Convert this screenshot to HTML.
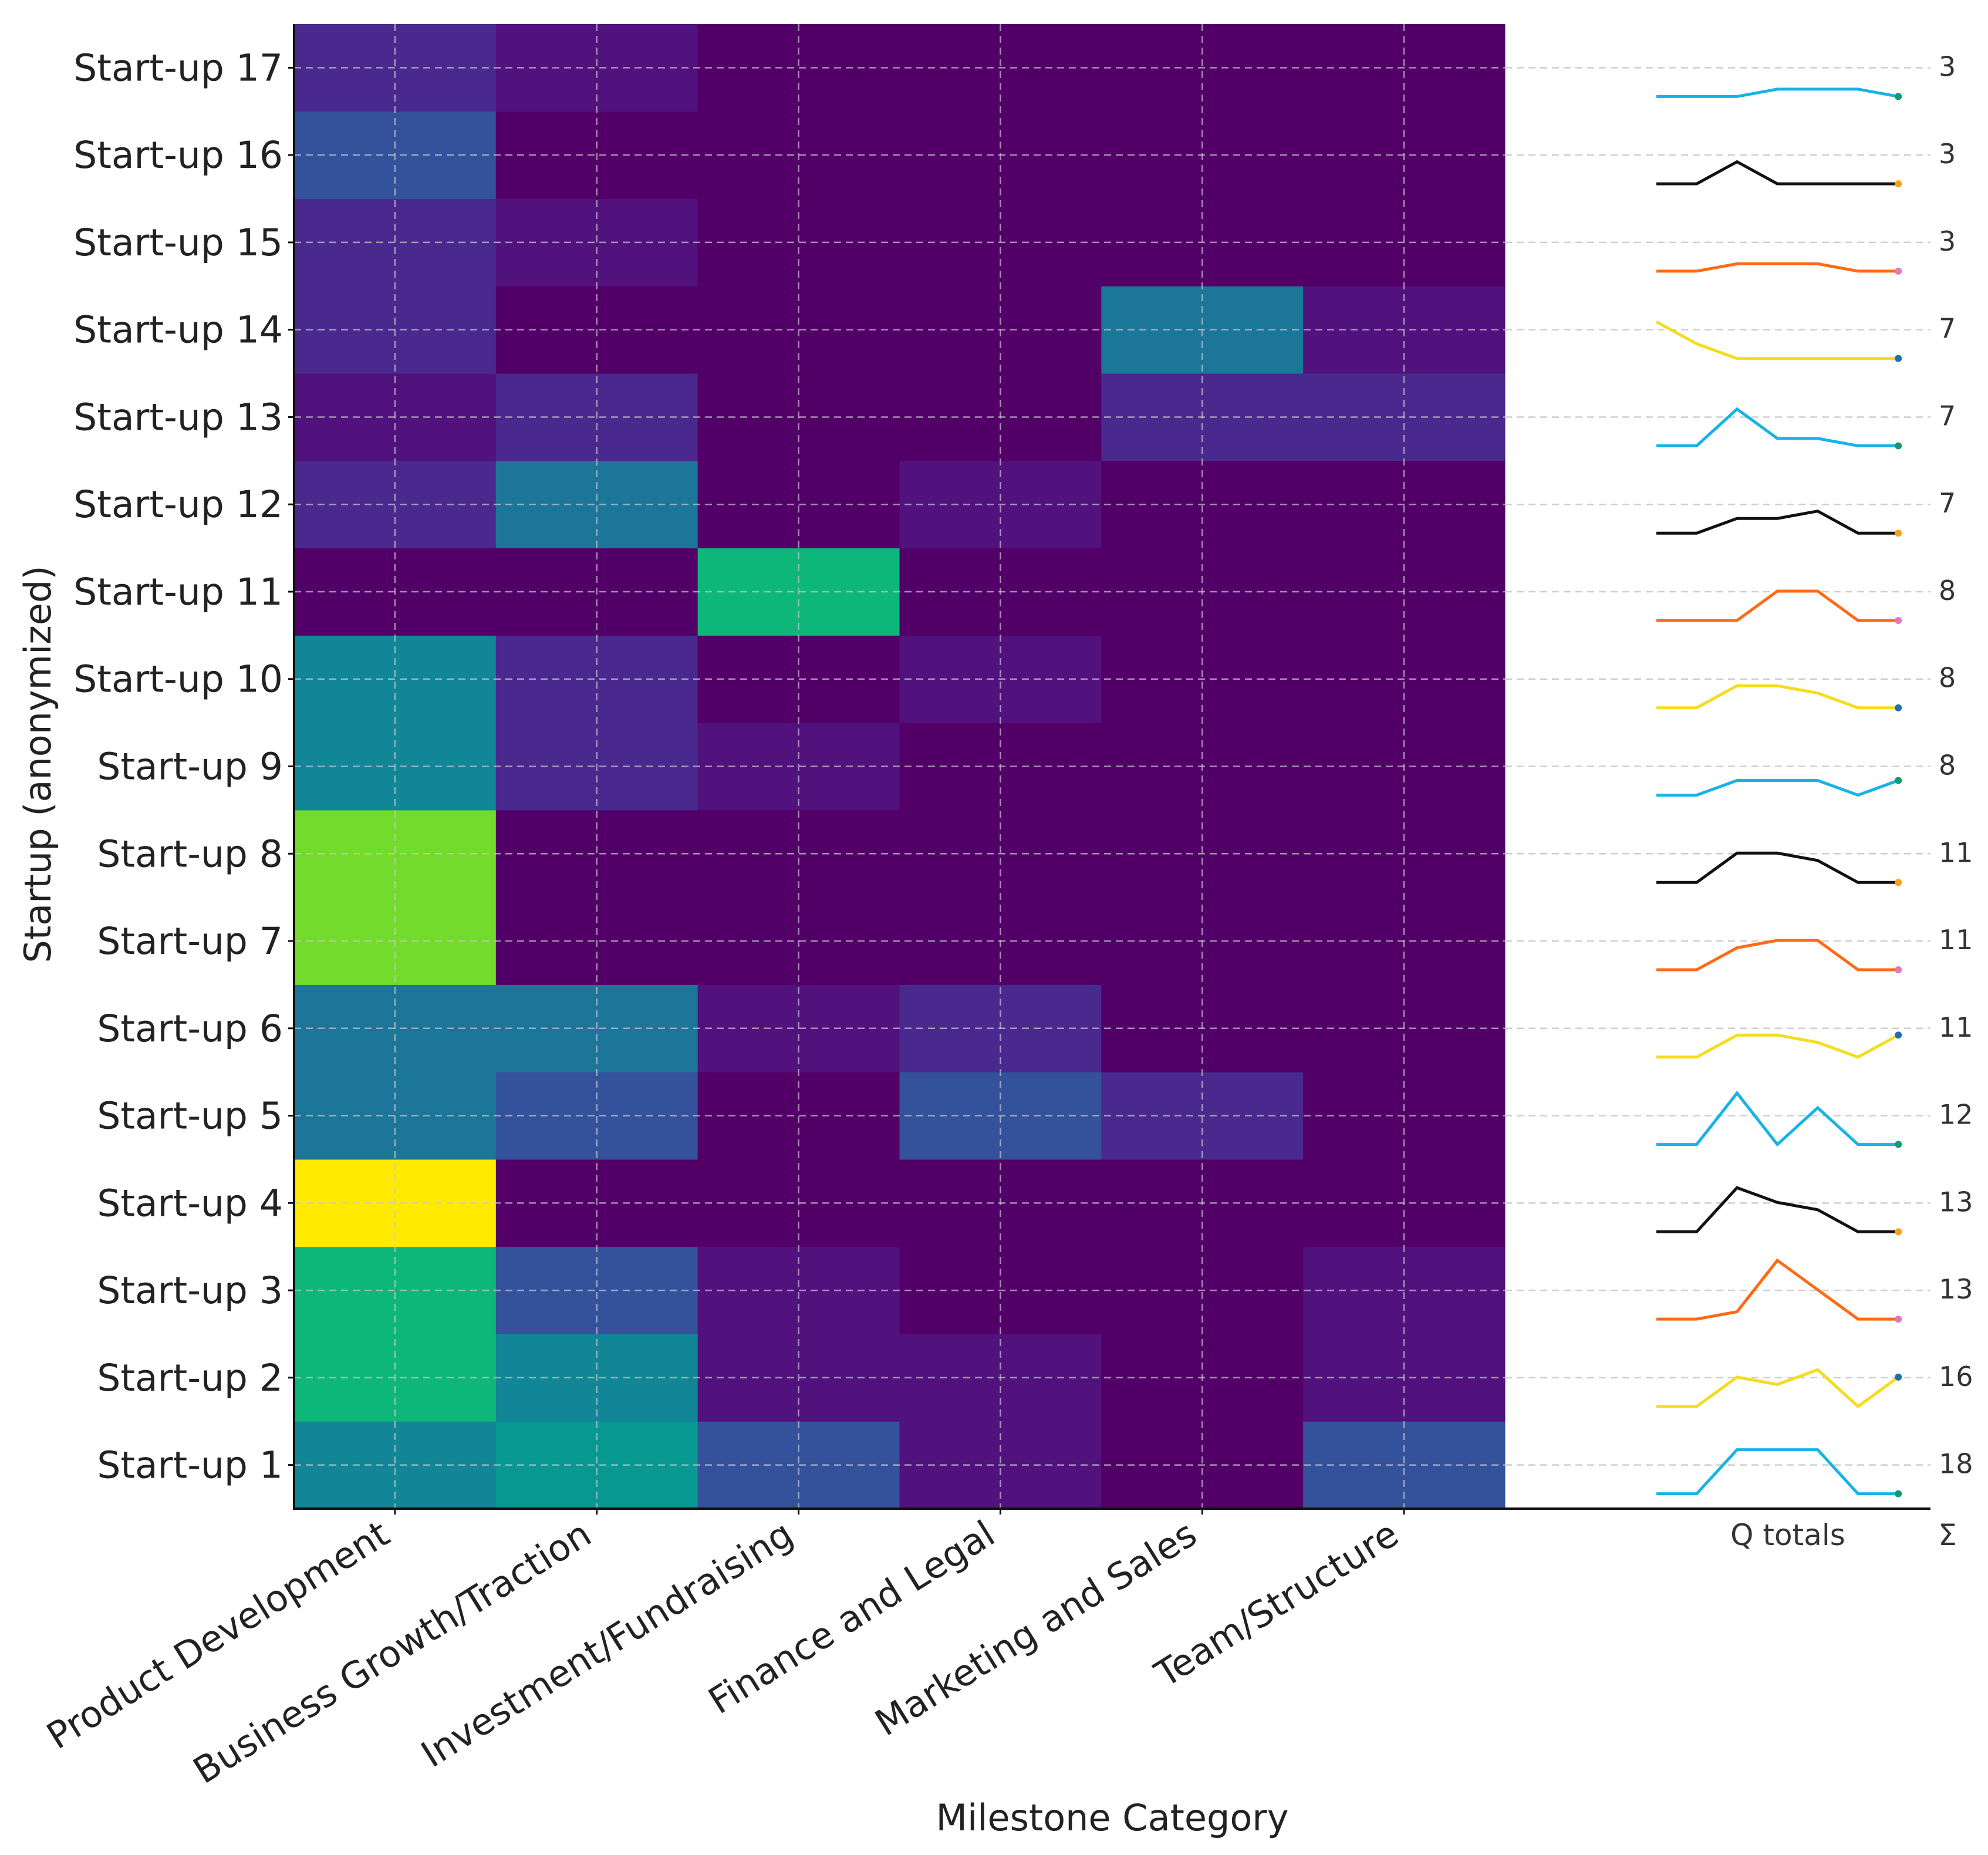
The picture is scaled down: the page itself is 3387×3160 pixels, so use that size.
<!DOCTYPE html>
<html><head><meta charset="utf-8"><style>
html,body{margin:0;padding:0;background:#fff;}
svg{display:block;font-family:"DejaVu Sans","Liberation Sans",sans-serif;}
#cells{filter:saturate(1.3);}
</style></head><body>
<svg id="chart" width="3387" height="3160" viewBox="0 0 3387 3160" xmlns="http://www.w3.org/2000/svg">
<g id="cells"></g>
<g id="grid"></g>
<g id="spark"></g>
<g id="axes"></g>
<text x="1895" y="3118" font-size="62" text-anchor="middle" fill="#222">Milestone Category</text>
<text x="0" y="0" font-size="62" text-anchor="middle" fill="#222" transform="translate(86,1302) rotate(-90)">Startup (anonymized)</text>
<text x="3046" y="2632" font-size="50" text-anchor="middle" fill="#333">Q totals</text>
<text x="3318" y="2632" font-size="50" text-anchor="middle" fill="#333">Σ</text>
</svg>
<script>
const categories = ["Product Development","Business Growth/Traction","Investment/Fundraising","Finance and Legal","Marketing and Sales","Team/Structure"];
const startups = ["Start-up 1","Start-up 2","Start-up 3","Start-up 4","Start-up 5","Start-up 6","Start-up 7","Start-up 8","Start-up 9","Start-up 10","Start-up 11","Start-up 12","Start-up 13","Start-up 14","Start-up 15","Start-up 16","Start-up 17"];
const pdValues = [3.5,5,5,8,3,3,6.5,6.5,3.5,3.5,0,1,0.5,1,1,2,1];
const bgValues = [4,3.5,2,0,2,3,0,0,1,1,0,3,1,0,0.5,0,0.5];
const invValues = [2,0.5,0.5,0,0,0.5,0,0,0.5,0,5,0,0,0,0,0,0];
const flValues = [0.5,0.5,0,0,2,1,0,0,0,0.5,0,0.5,0,0,0,0,0];
const msValues = [0,0,0,0,1,0,0,0,0,0,0,0,1,3,0,0,0];
const teamValues = [2,0.5,0.5,0,0,0,0,0,0,0,0,0,1,0.5,0,0,0];
const totals = [18,16,13,13,12,11,11,11,8,8,8,7,7,7,3,3,3];
const quarterSeries = [
 [0,0,6,6,6,0,0],[0,0,4,3,5,0,4],[0,0,1,8,4,0,0],[0,0,6,4,3,0,0],
 [0,0,7,0,5,0,0],[0,0,3,3,2,0,3],[0,0,3,4,4,0,0],[0,0,4,4,3,0,0],
 [0,0,2,2,2,0,2],[0,0,3,3,2,0,0],[0,0,0,4,4,0,0],[0,0,2,2,3,0,0],
 [0,0,5,1,1,0,0],[5,2,0,0,0,0,0],[0,0,1,1,1,0,0],[0,0,3,0,0,0,0],
 [0,0,0,1,1,1,0]];
const VMAX = 8;

const NS="http://www.w3.org/2000/svg";
const L=501,R=2564,T=41,B=2570,RIGHT=3289;
const colW=(R-L)/categories.length, rowH=(B-T)/startups.length;
const xCol=i=>L+i*colW;
const yRow=r=>T+(startups.length-1-r)*rowH;
const yCenter=r=>yRow(r)+rowH/2;
const sx=i=>2822+i*68.7;
const sy=(r,v)=>yCenter(r)+49-v*12.5;
const vir=["#440154","#482475","#414487","#355f8d","#2a788e","#21918c","#22a884","#44bf70","#7ad151","#bddf26","#fde725"];
function hex(h){return [1,3,5].map(i=>parseInt(h.substr(i,2),16));}
function viridis(t){t=Math.max(0,Math.min(1,t));const p=t*10,i=Math.min(9,Math.floor(p)),f=p-i;
 const a=hex(vir[i]),b=hex(vir[i+1]);return "rgb("+a.map((c,k)=>Math.round(c+(b[k]-c)*f)).join(",")+")";}
function mk(tag,attrs,parent){const e=document.createElementNS(NS,tag);for(const k in attrs)e.setAttribute(k,attrs[k]);parent.appendChild(e);return e;}

const cols=[pdValues,bgValues,invValues,flValues,msValues,teamValues];
const cells=document.getElementById('cells');
cols.forEach((arr,c)=>arr.forEach((v,r)=>{
 const e=mk('rect',{x:xCol(c),y:yRow(r),width:colW+0.5,height:rowH+0.5,fill:viridis(v/VMAX)},cells);
 
 
}));
const grid=document.getElementById('grid');
categories.forEach((c,i)=>{
 const e=mk('line',{x1:xCol(i)+colW/2,x2:xCol(i)+colW/2,y1:T,y2:B,stroke:"#c8c8d0","stroke-width":2.5,"stroke-dasharray":"12,8",opacity:0.7},grid);
 
 
});
startups.forEach((s,r)=>{
 const e=mk('line',{x1:L,x2:R,y1:yCenter(r),y2:yCenter(r),stroke:"#c8c8d0","stroke-width":2.5,"stroke-dasharray":"12,8",opacity:0.7},grid);
 
 
 const e2=mk('line',{x1:R,x2:RIGHT,y1:yCenter(r),y2:yCenter(r),stroke:"#cfcfcf","stroke-width":2.5,"stroke-dasharray":"12,8"},grid);
 
 
});
const lineColors=["#17b3e8","#f5dc1e","#ff6a13","#111111"];
const dotColors=["#0f9d6a","#1f6fb5","#e377c2","#ff9f1a"];
const spark=document.getElementById('spark');
quarterSeries.forEach((vals,r)=>{
 const pts=vals.map((v,i)=>sx(i).toFixed(1)+","+sy(r,v).toFixed(1)).join(" ");
 const e=mk('polyline',{points:pts,fill:"none",stroke:lineColors[r%4],"stroke-width":5,"stroke-linejoin":"miter"},spark);
 
 
 const d=mk('circle',{cx:sx(vals.length-1),cy:sy(r,vals[vals.length-1]),r:6,fill:dotColors[r%4]},spark);
 
 
 const t=mk('text',{x:3303,y:yCenter(r)+14,"font-size":46,fill:"#333"},spark);
 t.textContent=totals[r];
 
 
});
const axes=document.getElementById('axes');
let a=mk('line',{x1:L,x2:L,y1:T,y2:B+2,stroke:"#111","stroke-width":4},axes);


a=mk('line',{x1:L-2,x2:RIGHT,y1:B,y2:B,stroke:"#111","stroke-width":4},axes);


startups.forEach((s,r)=>{
 const tk=mk('line',{x1:L-10,x2:L,y1:yCenter(r),y2:yCenter(r),stroke:"#111","stroke-width":3},axes);
 
 
 const t=mk('text',{x:482,y:yCenter(r)+22,"font-size":63,"text-anchor":"end",fill:"#222"},axes);
 t.textContent=s;
 
 
});
categories.forEach((c,i)=>{
 const cx=xCol(i)+colW/2;
 const tk=mk('line',{x1:cx,x2:cx,y1:B,y2:B+10,stroke:"#111","stroke-width":3},axes);
 
 
 const t=mk('text',{x:0,y:0,"font-size":62,"text-anchor":"end",fill:"#222",transform:"translate("+(cx-5)+","+(B+55)+") rotate(-32)"},axes);
 t.textContent=c;
 
 
});
</script>
</body></html>
